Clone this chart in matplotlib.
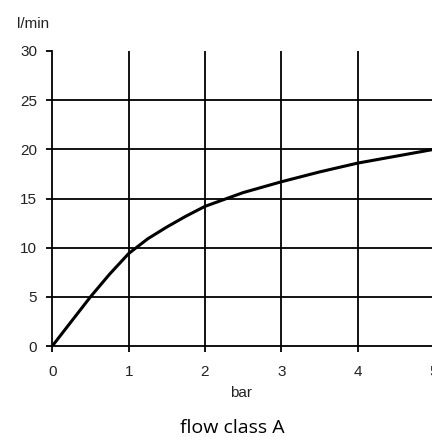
import numpy as np
import matplotlib
matplotlib.use("Agg")
from matplotlib import pyplot as plt

# flow curve
pressure = [0, 0.25, 0.5, 0.75, 1.0, 1.25, 1.5, 1.75, 2.0, 2.5, 3.0, 3.5, 4.0, 4.5, 5.0]
flow = [0, 2.5, 5.0, 7.3, 9.4, 10.9, 12.1, 13.2, 14.2, 15.6, 16.7, 17.7, 18.6, 19.3, 20.0]
x_ticks = [0, 1, 2, 3, 4, 5]
y_ticks = [0, 5, 10, 15, 20, 25, 30]

fig = plt.figure(figsize=(4.32, 4.37), dpi=100)
ax = fig.add_axes([52.3 / 432, 91 / 437, 381.7 / 432, 295 / 437])

ax.plot(pressure, flow, color="black", lw=2.2, solid_capstyle="butt")

ax.set_xlim(0, 5)
ax.set_ylim(0, 30)
ax.set_xticks(x_ticks)
ax.set_yticks(y_ticks)

# grid lines drawn by hand so there is none at y=30
for yv in y_ticks[1:-1]:
    ax.axhline(yv, color="black", lw=1.3, zorder=1)
for xv in x_ticks[1:]:
    ax.axvline(xv, color="black", lw=1.3, zorder=1)

for s in ["top", "right"]:
    ax.spines[s].set_visible(False)
for s in ["left", "bottom"]:
    ax.spines[s].set_linewidth(1.3)
    ax.spines[s].set_color("black")

ax.tick_params(direction="out", length=4, width=1.3, colors="black", labelsize=11)
ax.tick_params(axis="y", pad=7)
ax.tick_params(axis="x", pad=10)
for lab in ax.get_xticklabels() + ax.get_yticklabels():
    lab.set_fontfamily("Liberation Sans")
    lab.set_color("#222222")

fig.text(241 / 432, 1 - 393 / 437, "bar", fontfamily="Liberation Sans", fontsize=11,
         va="center", ha="center", color="#222222")
fig.text(33 / 432, 1 - 24 / 437, "l/min", fontfamily="Liberation Sans", fontsize=11,
         va="center", ha="center", color="#222222")
fig.text(232 / 432, 1 - 428 / 437, "flow class A", fontfamily="Open Sans", fontsize=14,
         va="center", ha="center", color="black")

fig.savefig("out.png", dpi=100)
